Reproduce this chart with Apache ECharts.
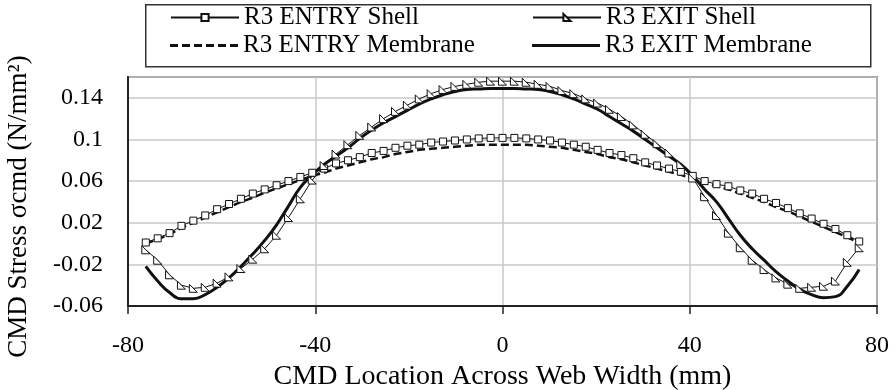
<!DOCTYPE html>
<html>
<head>
<meta charset="utf-8">
<script src="https://cdn.jsdelivr.net/npm/echarts@6/dist/echarts.min.js"></script>
<style>
html,body{margin:0;padding:0;background:#fff;}
#c{width:896px;height:390px;}
</style>
</head>
<body>
<div id="c"></div>
<script>
// x positions (mm)
const xs = [-76.2,-73.66,-71.12,-68.58,-66.04,-63.5,-60.96,-58.42,-55.88,-53.34,-50.8,-48.26,-45.72,-43.18,-40.64,-38.1,-35.56,-33.02,-30.48,-27.94,-25.4,-22.86,-20.32,-17.78,-15.24,-12.7,-10.16,-7.62,-5.08,-2.54,0,
2.54,5.08,7.62,10.16,12.7,15.24,17.78,20.32,22.86,25.4,27.94,30.48,33.02,35.56,38.1,40.64,43.18,45.72,48.26,50.8,53.34,55.88,58.42,60.96,63.5,66.04,68.58,71.12,73.66,76.2];

const entryShell = [0.001,0.005,0.010,0.017,0.022,0.027,0.033,0.038,0.043,0.048,0.052,0.056,0.060,0.064,0.068,0.072,0.077,0.080,0.083,0.087,0.089,0.092,0.094,0.095,0.097,0.098,0.099,0.100,0.101,0.1015,0.1015,
0.1015,0.101,0.100,0.099,0.097,0.095,0.093,0.090,0.087,0.085,0.082,0.078,0.075,0.072,0.069,0.065,0.060,0.057,0.055,0.051,0.048,0.043,0.039,0.034,0.029,0.024,0.019,0.014,0.008,0.002];

const entryMembrane = [0.000,0.004,0.009,0.015,0.020,0.025,0.030,0.035,0.040,0.044,0.049,0.053,0.057,0.061,0.065,0.068,0.072,0.075,0.078,0.081,0.083,0.086,0.088,0.090,0.091,0.092,0.093,0.094,0.095,0.095,0.095,
0.095,0.095,0.094,0.093,0.092,0.090,0.088,0.086,0.083,0.081,0.078,0.075,0.072,0.069,0.066,0.062,0.058,0.055,0.052,0.048,0.044,0.040,0.035,0.031,0.026,0.021,0.016,0.011,0.006,0.001];

const exitShell = [-0.006,-0.016,-0.030,-0.040,-0.043,-0.042,-0.038,-0.032,-0.024,-0.015,-0.005,0.008,0.025,0.043,0.061,0.075,0.086,0.095,0.104,0.112,0.120,0.127,0.133,0.139,0.144,0.148,0.151,0.153,0.155,0.156,0.156,
0.156,0.155,0.153,0.151,0.147,0.144,0.139,0.135,0.129,0.122,0.114,0.105,0.096,0.087,0.076,0.063,0.045,0.027,0.010,-0.004,-0.016,-0.025,-0.033,-0.039,-0.043,-0.042,-0.041,-0.036,-0.018,-0.004];

const exitMembrane = [-0.022,-0.036,-0.047,-0.053,-0.053,-0.049,-0.042,-0.033,-0.022,-0.010,0.003,0.018,0.036,0.054,0.066,0.076,0.084,0.092,0.101,0.109,0.116,0.122,0.128,0.134,0.139,0.143,0.146,0.148,0.1485,0.149,0.149,
0.149,0.1485,0.148,0.146,0.143,0.139,0.134,0.129,0.122,0.115,0.108,0.100,0.092,0.084,0.076,0.065,0.052,0.040,0.024,0.008,-0.005,-0.016,-0.027,-0.036,-0.044,-0.049,-0.052,-0.051,-0.041,-0.025];

const xTicks = [-80,-40,0,40,80];
const yTicks = [-0.06,-0.02,0.02,0.06,0.1,0.14];

const names = ['R3 ENTRY Shell','R3 EXIT Shell','R3 ENTRY Membrane','R3 EXIT Membrane'];

const pairs = arr => xs.map((x,i)=>[x,arr[i]]);
const FONT = 'Liberation Serif';
const INK = '#111';

const chart = echarts.init(document.getElementById('c'), null, {renderer:'canvas'});

const triPath = 'path://M0,0 L0,10 L10,10 Z';
const solidIcon = 'path://M0,0h68v3h-68z';
const dashIcon = 'path://M0,0h8v3h-8zM12,0h8v3h-8zM24,0h8v3h-8zM36,0h8v3h-8zM48,0h8v3h-8zM60,0h8v3h-8z';

function legendAt(name, left, top, icon){
  const item = icon ? {name:name, icon:icon} : {name:name};
  return {
    data:[item], left:left, top:top, orient:'horizontal', padding:0,
    itemWidth:68, itemHeight: icon ? 3 : 9, itemGap:0,
    textStyle:{fontFamily:FONT, fontSize:25, color:'#000'},
    selectedMode:false
  };
}

chart.setOption({
  animation:false,
  backgroundColor:'#fff',
  graphic:[{
    type:'rect', left:145, top:4, z:0,
    shape:{width:725, height:62},
    style:{fill:'#fff', stroke:'#333', lineWidth:1.5}
  }],
  legend:[
    legendAt(names[0],170,5),
    legendAt(names[1],532,5),
    legendAt(names[2],170,33,dashIcon),
    legendAt(names[3],532,33,solidIcon)
  ],
  grid:{left:128, right:19, top:77, bottom:84, containLabel:false, outerBoundsMode:'none',
        show:true, borderColor:'#333', borderWidth:1.5, backgroundColor:'#fff'},
  xAxis:{
    type:'value', min:-80, max:80, interval:40,
    name:'CMD Location Across Web Width (mm)', nameLocation:'middle', nameGap:50,
    nameTextStyle:{fontFamily:FONT, fontSize:28, color:'#000'},
    axisLine:{show:true, onZero:false, lineStyle:{color:'#222', width:2}},
    axisTick:{show:true, inside:false, length:8, lineStyle:{color:'#222', width:1.5}},
    axisLabel:{fontFamily:FONT, fontSize:24, color:'#000', margin:28,
      formatter: v => xTicks.includes(v) ? String(v) : ''},
    splitLine:{show:true, lineStyle:{color:'#c8c8c8', width:1.5}}
  },
  yAxis:{
    type:'value', min:-0.06, max:0.16, interval:0.04,
    name:'CMD Stress σcmd (N/mm²)', nameLocation:'middle', nameGap:96,
    nameTextStyle:{fontFamily:FONT, fontSize:27, color:'#000', padding:[0,30,0,0]},
    axisLine:{show:true, onZero:false, lineStyle:{color:'#222', width:2}},
    axisTick:{show:false},
    axisLabel:{fontFamily:FONT, fontSize:24, color:'#000', margin:25,
      formatter: v => { const r = +v.toFixed(2); return yTicks.includes(r) ? String(r) : ''; }},
    splitLine:{show:true, lineStyle:{color:'#c8c8c8', width:1.5}}
  },
  series:[
    {name:names[2], type:'line', data:pairs(entryMembrane), symbol:'none', smooth:false,
     lineStyle:{color:INK, width:2.5, type:[8,4]}, itemStyle:{color:INK}, z:2},
    {name:names[3], type:'line', data:pairs(exitMembrane), symbol:'none', smooth:true,
     lineStyle:{color:INK, width:3}, itemStyle:{color:INK}, z:2},
    {name:names[0], type:'line', data:pairs(entryShell), symbol:'rect', symbolSize:7, showAllSymbol:true,
     lineStyle:{color:INK, width:1}, itemStyle:{color:'#fff', borderColor:INK, borderWidth:1}, z:3},
    {name:names[1], type:'line', data:pairs(exitShell), symbol:triPath, symbolSize:8, showAllSymbol:true,
     lineStyle:{color:INK, width:1}, itemStyle:{color:'#fff', borderColor:INK, borderWidth:1}, z:3}
  ]
});
</script>
</body>
</html>
